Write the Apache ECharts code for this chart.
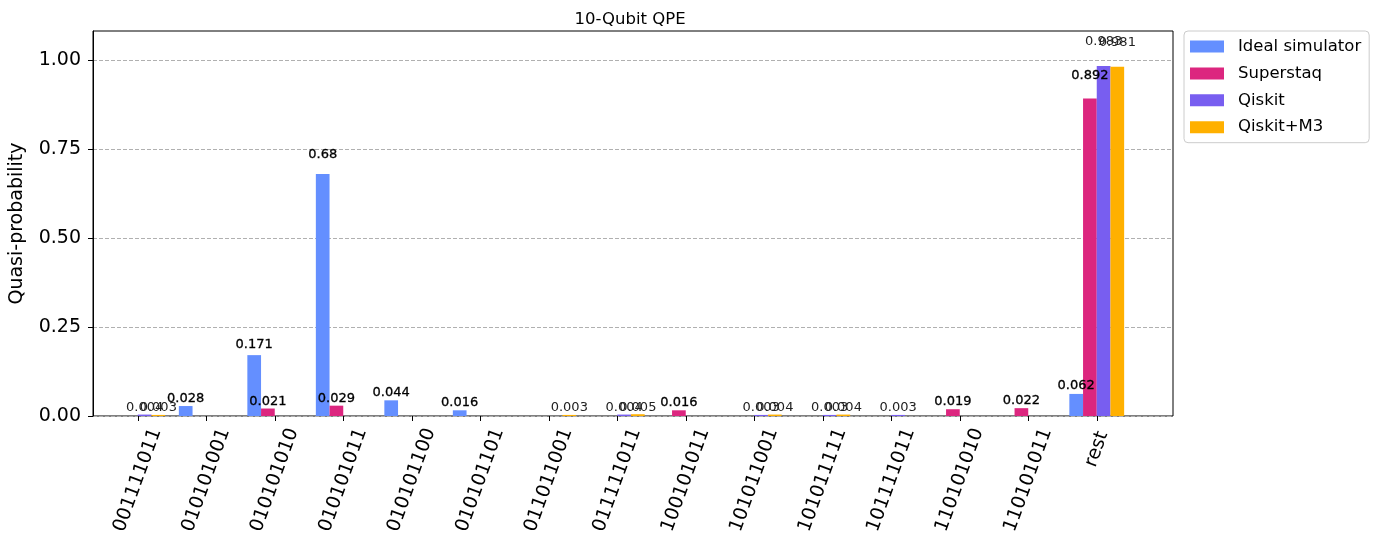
<!DOCTYPE html>
<html lang="en">
<head>
<meta charset="UTF-8">
<title>10-Qubit QPE</title>
<script src="https://cdn.jsdelivr.net/npm/echarts@6/dist/echarts.min.js"></script>
<style>
  html, body { margin: 0; padding: 0; background: #fff; }
  #main { width: 1377px; height: 547px; }
</style>
</head>
<body>
<div id="main"></div>
<script type="text/javascript">
// bitstrings on the x axis
var categories = ['001111011', '010101001', '010101010', '010101011', '010101100',
    '010101101', '011011001', '011111011', '100101011', '101011001',
    '101011111', '101111011', '110101010', '110101011', 'rest'];

// quasi-probabilities per backend
var idealSim  = [0, 0.028, 0.171, 0.68, 0.044, 0.016, 0, 0, 0, 0, 0, 0, 0, 0, 0.062];
var superstaq = [0, 0, 0.021, 0.029, 0, 0, 0, 0, 0.016, 0, 0, 0, 0.019, 0.022, 0.892];
var qiskit    = [0.004, 0, 0, 0, 0, 0, 0, 0.004, 0, 0.003, 0.003, 0.003, 0, 0, 0.983];
var qiskitM3  = [0.003, 0, 0, 0, 0, 0, 0.003, 0.005, 0, 0.004, 0.004, 0, 0, 0, 0.981];

var yTicks = [0, 0.25, 0.5, 0.75, 1.0];

var FONT = 'DejaVu Sans';
var yMax = 1.0815;
var plotTop = 31, plotBottom = 131;
var pxPerUnit = (547 - plotTop - plotBottom) / yMax;

// labels sit at 1.05 * height, like the matplotlib original; empty bars are skipped
function withLabels(values, color, border) {
    return values.map(function (v) {
        if (!v) return null;
        return {
            value: v,
            label: { distance: v * 0.05 * pxPerUnit, color: color,
                     textBorderColor: color, textBorderWidth: border }
        };
    });
}

function barSeries(name, values, color, labelColor, border) {
    return {
        name: name,
        type: 'bar',
        xAxisIndex: 1,
        yAxisIndex: 1,
        barGap: '0%',
        barCategoryGap: '20%',
        itemStyle: { color: color },
        label: {
            show: true,
            position: 'top',
            fontFamily: FONT,
            fontSize: 13,
            lineHeight: 14,
            formatter: function (p) { return p.value ? String(p.value) : ''; }
        },
        data: withLabels(values, labelColor, border)
    };
}

var myChart = echarts.init(document.getElementById('main'));
var option = {
    animation: false,
    backgroundColor: '#fff',
    textStyle: { fontFamily: FONT },
    title: {
        text: '10-Qubit QPE',
        left: 625,
        top: 6,
        textAlign: 'center',
        textStyle: { fontFamily: FONT, fontSize: 16.5, fontWeight: 'normal', color: '#000' }
    },
    legend: {
        orient: 'vertical',
        left: 1184,
        top: 31,
        padding: [7, 8, 7, 6],
        borderColor: '#cccccc',
        borderWidth: 1,
        borderRadius: 4,
        itemWidth: 34,
        itemHeight: 12,
        itemGap: 9.9,
        icon: 'rect',
        textStyle: { fontFamily: FONT, fontSize: 16.5, lineHeight: 17, color: '#000', padding: [0, 0, 0, 9] },
        data: ['Ideal simulator', 'Superstaq', 'Qiskit', 'Qiskit+M3']
    },
    grid: [
        // frame, y axis and gridlines
        { left: 88, right: 204, top: plotTop, bottom: plotBottom, show: true,
          borderColor: '#000', borderWidth: 1, backgroundColor: 'transparent' },
        // bars, offset like the matplotlib x limits
        { left: 103.5, right: 246, top: plotTop, bottom: plotBottom }
    ],
    xAxis: [
        { gridIndex: 0, type: 'value', min: 0, max: 1, show: false },
        {
            gridIndex: 1,
            type: 'category',
            data: categories,
            axisLine: { show: false },
            axisTick: { show: true, alignWithLabel: true, length: 5, lineStyle: { color: '#000' } },
            axisLabel: {
                rotate: 70,
                align: 'center',
                verticalAlign: 'middle',
                margin: 64,
                fontFamily: FONT,
                fontSize: 19,
                color: '#000',
                interval: 0,
                // short labels hang from the axis like matplotlib's top-aligned ticks
                formatter: function (v) { return v.length < 9 ? '{s|' + v + '}' : v; },
                rich: {
                    s: { fontFamily: FONT, fontSize: 19, color: '#000', padding: [0, 0, 21, 58] }
                }
            }
        }
    ],
    yAxis: [
        {
            gridIndex: 0,
            type: 'value',
            min: 0,
            max: yMax,
            name: 'Quasi-probability',
            nameLocation: 'middle',
            nameGap: 66,
            nameTextStyle: { fontFamily: FONT, fontSize: 19, color: '#000' },
            axisLine: { show: true, lineStyle: { color: '#000' } },
            axisTick: { show: true, length: 5, lineStyle: { color: '#000' }, customValues: yTicks },
            axisLabel: {
                fontFamily: FONT, fontSize: 19, color: '#000', margin: 12,
                customValues: yTicks,
                formatter: function (v) { return v.toFixed(2); }
            },
            splitLine: { show: true, lineStyle: { color: '#b0b0b0', type: [4, 2], width: 1 } },
            interval: 0.25
        },
        { gridIndex: 1, type: 'value', min: 0, max: yMax, show: false, splitLine: { show: false } }
    ],
    series: [
        barSeries('Ideal simulator', idealSim, '#648fff', '#000', 0.3),
        barSeries('Superstaq', superstaq, '#dc267f', '#000', 0.3),
        barSeries('Qiskit', qiskit, '#785ef0', '#222', 0),
        barSeries('Qiskit+M3', qiskitM3, '#ffb000', '#222', 0)
    ]
};
myChart.setOption(option);
</script>
</body>
</html>
